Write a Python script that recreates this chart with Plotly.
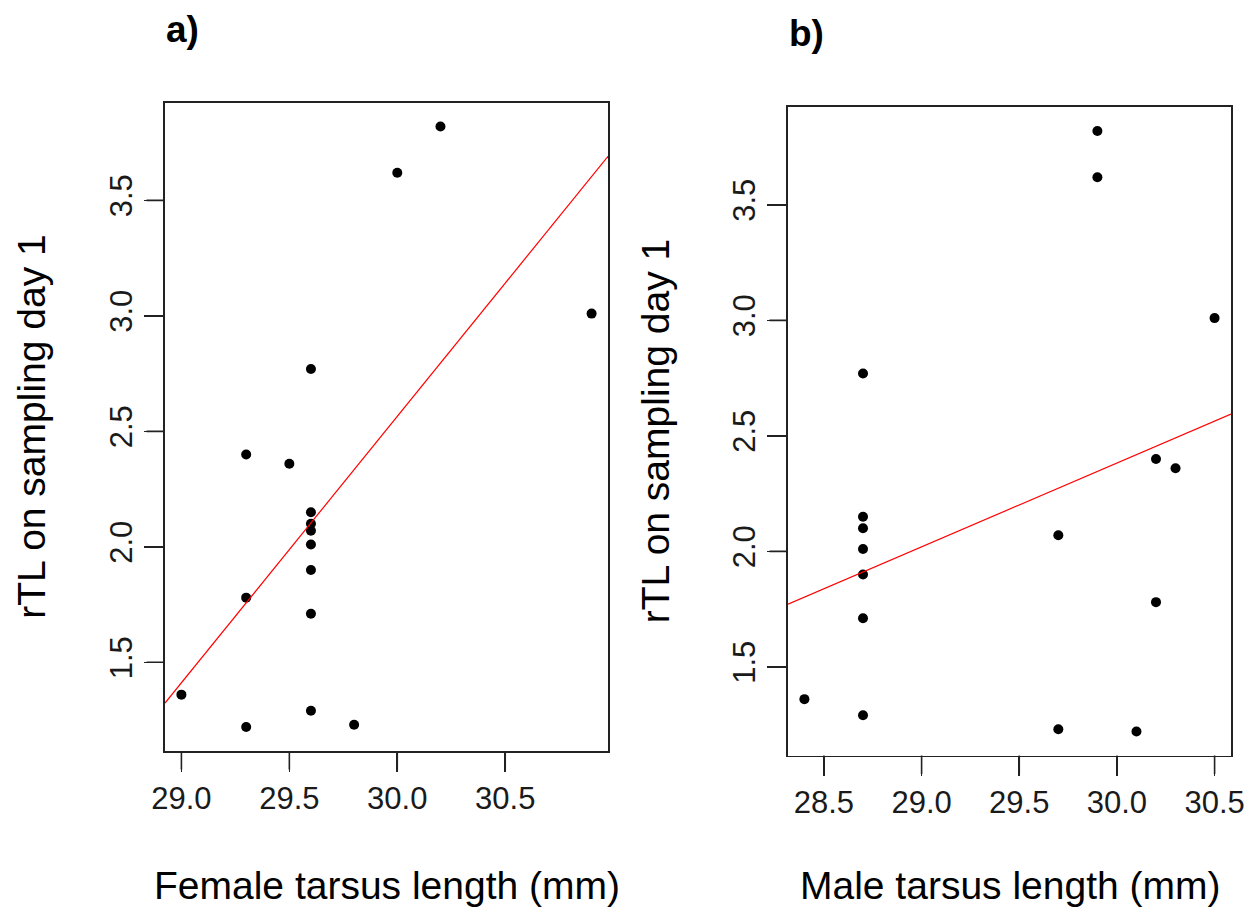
import numpy as np
import plotly.graph_objects as go

# rTL on sampling day 1 (same birds in both panels)
rtl = [3.82, 3.62, 3.01, 2.77, 2.40, 2.36, 2.15, 2.10, 2.07, 2.01, 1.90, 1.78, 1.71, 1.36, 1.29, 1.23, 1.22]
# female and male tarsus length (mm), paired with rtl above
female_tarsus = [30.2, 30.0, 30.9, 29.6, 29.3, 29.5, 29.6, 29.6, 29.6, 29.6, 29.6, 29.3, 29.6, 29.0, 29.6, 29.8, 29.3]
male_tarsus = [29.9, 29.9, 30.5, 28.7, 30.2, 30.3, 28.7, 28.7, 29.7, 28.7, 28.7, 30.2, 28.7, 28.4, 28.7, 29.7, 30.1]

y_ticks = [1.5, 2.0, 2.5, 3.0, 3.5]
female_x_ticks = [29.0, 29.5, 30.0, 30.5]
male_x_ticks = [28.5, 29.0, 29.5, 30.0, 30.5]

W, H = 1255, 912
FONT = "Liberation Sans, Arial, sans-serif"
AXIS_COLOR = "#222222"
TICK_LEN = 19
LINE_W = 1.6


def r_range(v):
    """Axis limits padded by 4% on each side, like R's default xaxs='r'."""
    lo, hi = min(v), max(v)
    pad = 0.04 * (hi - lo)
    return [lo - pad, hi + pad]


def px_x(p):
    return p / W


def px_y(p):
    return 1 - p / H


panels = [
    dict(x=female_tarsus, xt=female_x_ticks, box=(165, 608, 102.5, 751),
         xlab="Female tarsus length (mm)", tag="a)", ax=""),
    dict(x=male_tarsus, xt=male_x_ticks, box=(788, 1231, 107, 755.5),
         xlab="Male tarsus length (mm)", tag="b)", ax="2"),
]

fig = go.Figure()
yr = r_range(rtl)
annotations = []

for p in panels:
    xr = r_range(p["x"])
    xa, ya = "x" + p["ax"], "y" + p["ax"]
    l, r, t, b = p["box"]

    # scatter points
    fig.add_trace(go.Scatter(
        x=p["x"], y=rtl, mode="markers", xaxis=xa, yaxis=ya,
        marker=dict(color="black", size=10, line=dict(width=0)),
        showlegend=False, hoverinfo="x+y"))
    # least-squares regression line across the full plotting region
    slope, intercept = np.polyfit(p["x"], rtl, 1)
    lx = np.array(xr)
    fig.add_trace(go.Scatter(
        x=lx, y=intercept + slope * lx, mode="lines", xaxis=xa, yaxis=ya,
        line=dict(color="#ff0000", width=1.2), showlegend=False,
        hoverinfo="skip"))

    common = dict(showline=True, linecolor=AXIS_COLOR, linewidth=LINE_W,
                  mirror=True, ticks="outside", ticklen=TICK_LEN,
                  tickwidth=LINE_W, tickcolor=AXIS_COLOR, fixedrange=True,
                  showgrid=False, zeroline=False, tickformat=".1f",
                  automargin=False,
                  tickfont=dict(family=FONT, size=31, color="#1a1a1a"))
    fig.update_layout(**{
        "xaxis" + p["ax"]: dict(common, domain=[px_x(l), px_x(r)], range=xr,
                                tickvals=p["xt"], anchor=ya),
        "yaxis" + p["ax"]: dict(common, domain=[px_y(b), px_y(t)], range=yr,
                                tickvals=y_ticks, anchor=xa, tickangle=-90),
    })

    # outward tick marks, drawn as headless annotation arrows
    tick_style = dict(text="", showarrow=True, arrowhead=0, arrowwidth=LINE_W,
                      arrowcolor=AXIS_COLOR, standoff=0, startstandoff=0,
                      axref="pixel", ayref="pixel")
    for v in p["xt"]:
        annotations.append(dict(tick_style, xref=xa, yref=ya + " domain",
                                x=v, y=0, ax=0, ay=TICK_LEN + 1))
    for v in y_ticks:
        annotations.append(dict(tick_style, xref=xa + " domain", yref=ya,
                                x=0, y=v, ax=-(TICK_LEN + 1), ay=0))

    # axis titles
    annotations.append(dict(
        text=p["xlab"], xref="paper", yref="paper", x=px_x((l + r) / 2),
        y=px_y(885), xanchor="center", yanchor="middle", showarrow=False,
        font=dict(family=FONT, size=39, color="black")))
    annotations.append(dict(
        text="rTL on sampling day 1", xref="paper", yref="paper",
        x=px_x(l - 133), y=px_y((t + b) / 2), xanchor="center",
        yanchor="middle", textangle=-90, showarrow=False,
        font=dict(family=FONT, size=39, color="black")))
    # panel tag
    annotations.append(dict(
        text="<b>" + p["tag"] + "</b>", xref="paper", yref="paper",
        x=px_x(l - 1), y=px_y(t - 73), xanchor="left", yanchor="middle",
        showarrow=False, font=dict(family=FONT, size=37, color="black")))

fig.update_layout(
    template="none",
    width=W, height=H, autosize=False,
    margin=dict(l=0, r=0, t=0, b=0, autoexpand=False),
    paper_bgcolor="white", plot_bgcolor="white",
    dragmode=False,
    annotations=annotations,
)

fig.write_html("out.html", config={"staticPlot": True})
